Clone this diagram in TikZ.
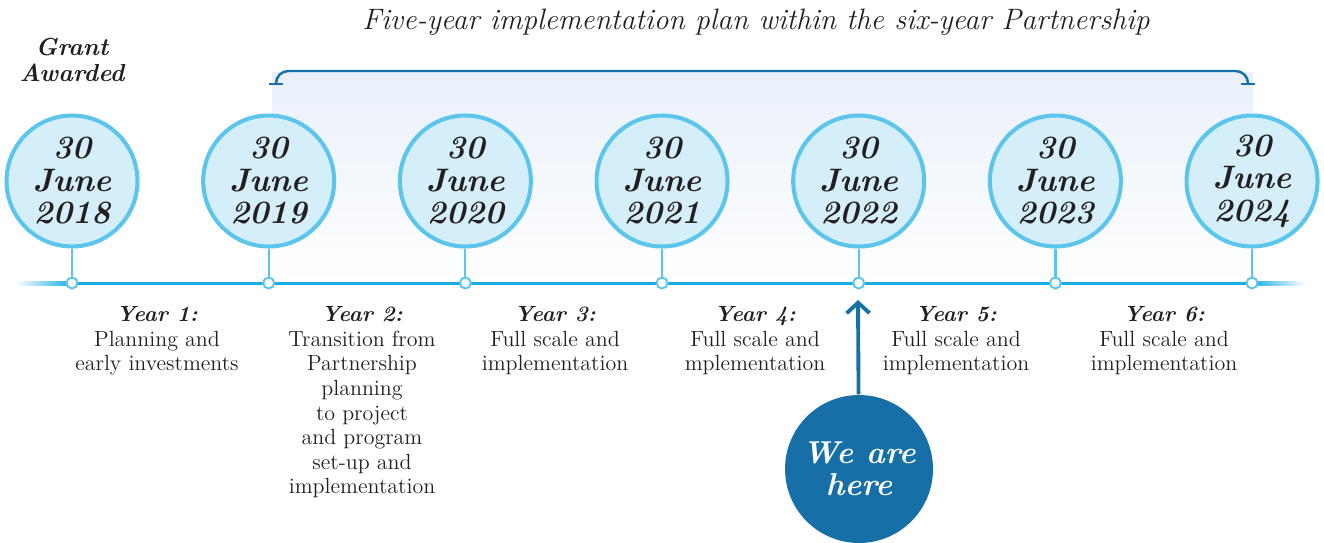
\documentclass[tikz,border=0pt]{standalone}
\usepackage{tikz}
\usetikzlibrary{arrows.meta}
\usetikzlibrary{positioning}

\definecolor{ringblue}{HTML}{5BC5EC}
\definecolor{discblue}{HTML}{D4EEFA}
\definecolor{lineblue}{HTML}{1AADE4}
\definecolor{deepblue}{HTML}{1670A7}
\definecolor{panelblue}{HTML}{E9F0FA}
\definecolor{inkgrey}{HTML}{231F20}

\tikzset{
	datedisc/.style={circle, draw=ringblue, fill=discblue, line width=2.3pt,
			minimum size=2.62cm, inner sep=0pt, align=center, text=inkgrey,
			font=\fontsize{18.5}{18.5}\selectfont\bfseries\itshape},
	tickdot/.style={circle, draw=ringblue, fill=white, line width=1.1pt,
			minimum size=0.22cm, inner sep=0pt},
	yearlabel/.style={align=center, anchor=north, text=inkgrey,
			font=\fontsize{12.5}{14}\selectfont}
}

\begin{document}
\begin{tikzpicture}[x=0.02cm, y=-0.02cm, thick]
	\useasboundingbox (0,0) rectangle (1324,542);

	% panel and bracket over the five years
	\shade[top color=panelblue, bottom color=white] (272,72) rectangle (1253,284);
	\draw[deepblue, line width=1.4pt, rounded corners=7pt] (276,84) -- (276,71) -- (1248,71) -- (1248,84);
	\draw[deepblue, line width=1.4pt] (269,84) -- (283,84) (1241,84) -- (1255,84);

	\node[text=inkgrey, font=\fontsize{16.8}{18}\selectfont\itshape] (plan) at (756,22)
		{Five-year implementation plan within the six-year Partnership};
	\node[text=inkgrey, align=center, font=\fontsize{14}{15}\selectfont\bfseries\itshape] (grant) at (72,60)
		{Grant\\Awarded};

	% time line
	\shade[left color=white, right color=lineblue] (15,281.5) rectangle (72,285);
	\fill[lineblue] (72,281.5) rectangle (1252,285);
	\shade[left color=lineblue, right color=white] (1252,281.5) rectangle (1305,285);

	\foreach \yr [count=\i from 0] in {2018,...,2024} {
		\node[datedisc] (d\yr) at ({72+196.67*\i},181) {30\\June\\\yr};
		\draw[ringblue, line width=1.3pt] (d\yr) -- ({72+196.67*\i},283);
		\node[tickdot] (t\yr) at ({72+196.67*\i},283) {};
	}

	\node[yearlabel] (y1) at (157,300) {\textbf{\textit{Year 1:}}\\Planning and\\early investments};
	\node[yearlabel] (y2) at (362,300) {\textbf{\textit{Year 2:}}\\Transition from\\Partnership\\planning\\to project\\and program\\set-up and\\implementation};
	\node[yearlabel] (y3) at (555,300) {\textbf{\textit{Year 3:}}\\Full scale and\\implementation};
	\node[yearlabel] (y4) at (755,300) {\textbf{\textit{Year 4:}}\\Full scale and\\mplementation};
	\node[yearlabel] (y5) at (956,300) {\textbf{\textit{Year 5:}}\\Full scale and\\implementation};
	\node[yearlabel] (y6) at (1164,300) {\textbf{\textit{Year 6:}}\\Full scale and\\implementation};

	% we are here
	\node[circle, fill=deepblue, minimum size=2.96cm, inner sep=0pt, align=center, text=white,
		font=\fontsize{18}{18}\selectfont\bfseries\itshape] (here) at (859,469) {We are\\here};
	\coordinate (mark) at (858,300);
	\draw[deepblue, line width=2.2pt, -{Straight Barb[length=6pt,width=13pt]}] (here) -- (mark);
\end{tikzpicture}
\end{document}
